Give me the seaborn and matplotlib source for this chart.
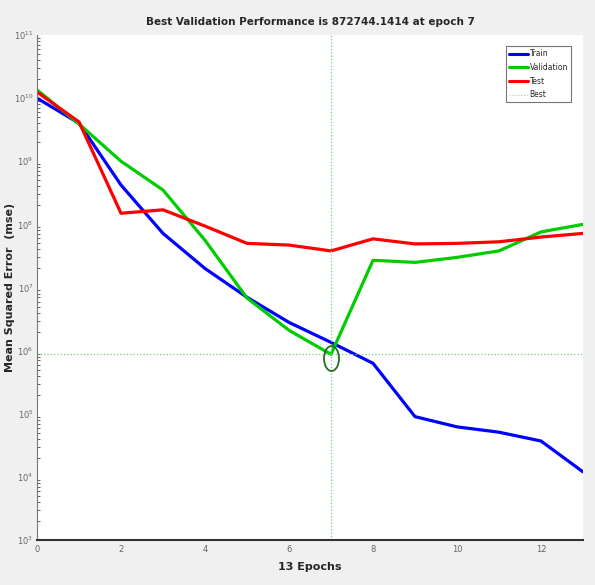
import numpy as np
import pandas as pd
import matplotlib
matplotlib.use("Agg")
import matplotlib.pyplot as plt
import matplotlib.ticker as mticker
import matplotlib.transforms as mtrans
from matplotlib.path import Path
from matplotlib.markers import MarkerStyle
from matplotlib.lines import Line2D
import seaborn as sns

epochs = list(range(0, 14))
train = [1.0e10, 4.0e9, 4.2e8, 7.2e7, 2.0e7, 7.0e6, 2.8e6, 1.35e6, 6.3e5, 9.0e4, 6.2e4, 5.1e4, 3.7e4, 1.2e4]
validation = [1.35e10, 3.9e9, 1.0e9, 3.5e8, 5.6e7, 6.8e6, 2.1e6, 8.72744e5, 2.7e7, 2.5e7, 3.0e7, 3.8e7, 7.6e7, 1.0e8]
test = [1.25e10, 4.2e9, 1.5e8, 1.7e8, 9.4e7, 5.0e7, 4.7e7, 3.8e7, 5.9e7, 4.9e7, 5.0e7, 5.3e7, 6.3e7, 7.2e7]
best_epoch = 7
best_value = 872744.1414
series_names = ["Train", "Validation", "Test"]
series_colors = ["#0000ff", "#00cc00", "#ff0000"]

df = pd.DataFrame({
    "epoch": epochs * 3,
    "mse": train + validation + test,
    "series": ["Train"] * 14 + ["Validation"] * 14 + ["Test"] * 14,
})

sns.set_style("white")
plt.rcParams["ytick.minor.visible"] = True

fig = plt.figure(figsize=(5.95, 5.85), dpi=100, facecolor="#f0f0f0")
ax = fig.add_axes([37/595, 1 - 540/585, (583-37)/595, (540-35)/585])
ax.set_facecolor("white")

sns.lineplot(data=df, x="epoch", y="mse", hue="series", hue_order=series_names,
             palette=series_colors, linewidth=2.3, ax=ax, legend=False)

ax.axvline(best_epoch, color="#77cc77", linestyle=":", linewidth=0.9)
ax.axhline(best_value, color="#77cc77", linestyle=":", linewidth=0.9)

ax.set_yscale("log")
ax.set_ylim(1e3, 1e11)
ax.set_xlim(0, 13)
ax.set_xticks([0, 2, 4, 6, 8, 10, 12])
ax.yaxis.set_major_locator(mticker.FixedLocator([10.0**k for k in range(3, 12)]))
ax.yaxis.set_minor_locator(mticker.LogLocator(base=10, subs=np.arange(2, 10), numticks=100))
ax.yaxis.set_minor_formatter(mticker.NullFormatter())

ax.tick_params(axis="both", which="major", labelsize=6, colors="#444444",
               labelcolor="#666666", direction="in", length=5, width=0.8)
ax.tick_params(axis="y", which="major", pad=2.5)
ax.tick_params(axis="y", which="minor", direction="in", length=2.5, width=0.6,
               colors="#444444", left=True)

for s in ["top", "right"]:
    ax.spines[s].set_visible(False)
ax.spines["bottom"].set_color("#333333")
ax.spines["bottom"].set_linewidth(1.5)
ax.spines["left"].set_color("#777777")
ax.spines["left"].set_linewidth(0.8)

ax.set_title("Best Validation Performance is 872744.1414 at epoch 7",
             fontsize=7.5, fontweight="bold", pad=7, family="Liberation Sans Narrow")
ax.set_xlabel("13 Epochs", fontsize=8, fontweight="bold", family="Liberation Sans Narrow", labelpad=6)
ax.set_ylabel("Mean Squared Error  (mse)", fontsize=8, fontweight="bold")
ax.yaxis.set_label_coords((15 - 37) / 546, 0.5)

handles = [Line2D([], [], color=c, linewidth=2.2) for c in series_colors]
handles.append(Line2D([], [], color="#99dd99", linestyle=":", linewidth=0.8))
leg = ax.legend(handles, series_names + ["Best"], loc="upper right", fontsize=5.5,
                frameon=True, fancybox=False, edgecolor="#555555", handlelength=2.5,
                handletextpad=0.2, borderpad=0.4, labelspacing=0.6,
                bbox_to_anchor=(0.985, 0.985))
leg.get_frame().set_linewidth(0.8)

# best marker: tall open circle as in the reference
ell = MarkerStyle(Path.unit_circle().transformed(mtrans.Affine2D().scale(0.6, 1.0)))
ax.plot([best_epoch], [best_value * 0.87], marker=ell,
        markersize=18, markerfacecolor="none", markeredgecolor="#207020", markeredgewidth=1.3,
        linestyle="none")

fig.savefig("out.png", dpi=100, facecolor=fig.get_facecolor())
